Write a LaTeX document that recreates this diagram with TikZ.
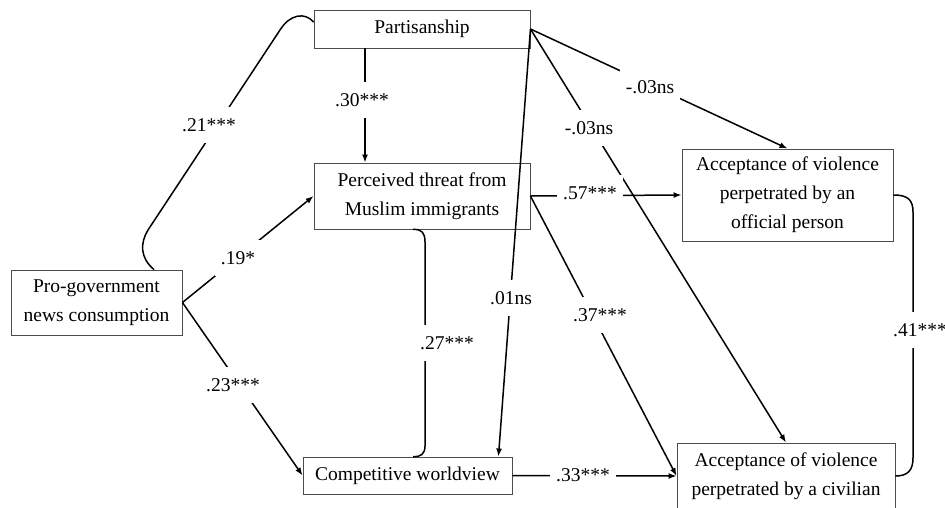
\documentclass[tikz,border=0pt]{standalone}
\usepackage{fontspec}
\setmainfont{Liberation Serif}
\usetikzlibrary{arrows.meta}
\begin{document}
\begin{tikzpicture}[x=1pt,y=-1pt,
  every node/.style={font=\fontsize{19.5}{29}\selectfont},
  var/.style={draw=black!70, line width=0.9pt, fill=white, align=center, inner sep=0pt},
  link/.style={line width=1.5pt, draw=black},
  arr/.style={link, -{Latex[length=8pt,width=6pt]}},
  coef/.style={fill=white, inner xsep=6pt, inner ysep=11pt}
]
\fill[white] (0,0) rectangle (945,507);
\useasboundingbox (0,0) rectangle (945,507);

% variables
\node[var, minimum width=216pt, minimum height=38pt] (part) at (422,29) {Partisanship};
\node[var, minimum width=216pt, minimum height=66pt] (perc) at (422,196) {Perceived threat from\\Muslim immigrants};
\node[var, minimum width=171pt, minimum height=65pt] (pro) at (96.5,302.5) {Pro-government\\news consumption};
\node[var, minimum width=209pt, minimum height=37pt] (comp) at (407.5,475.5) {Competitive worldview};
\node[var, minimum width=211pt, minimum height=92pt] (off) at (787.5,195) {Acceptance of violence\\perpetrated by an\\official person};
\node[var, minimum width=218pt, minimum height=66pt] (civ) at (786,476) {Acceptance of violence\\perpetrated by a civilian};

% paths
\draw[link] ([xshift=57.5pt]pro.north) .. controls (140,258) and (140,243) .. (148,230)
  -- (280,30) .. controls (290,14) and (305,12) .. ([yshift=7pt]part.west);
\draw[arr] ([xshift=-57pt]part.south) -- ([xshift=-57pt]perc.north);
\draw[arr] (pro.east) -- (perc.west);
\draw[arr] (pro.east) -- (comp.west);
\draw[link] ([xshift=-9pt]perc.south) .. controls (422,229) and (425,233) .. (425,242)
  -- (425,446) .. controls (425,454) and (421,457) .. ([xshift=5.5pt]comp.north);
\draw[arr] (part.east) -- ([xshift=-14pt]comp.north east);
\draw[arr] (part.east) -- (civ.north);
\draw[arr] (part.east) -- (off.north);
\draw[arr] (perc.east) -- (off.west);
\draw[arr] (perc.east) -- (civ.west);
\draw[arr] (comp.east) -- (civ.west);
\draw[link] (off.east) .. controls (908,195) and (913,200) .. (913,212)
  -- (913,458) .. controls (913,470) and (908,476) .. (civ.east);

% coefficients
\node[coef] (c21) at (209,125) {.21***};
\node[coef] (c30) at (362,100) {.30***};
\node[coef] (c19) at (238,258) {.19*};
\node[coef] (c23) at (233,385) {.23***};
\node[coef] (c27) at (447,343) {.27***};
\node[coef] (c01) at (511,298) {.01ns};
\node[coef] (c03b) at (589,128) {-.03ns};
\node[coef] (c03a) at (650,87) {-.03ns};
\node[coef] (c57) at (590,193) {.57***};
\node[coef] (c37) at (600,315) {.37***};
\node[coef] (c33) at (583,475) {.33***};
\node[coef] (c41) at (920,330) {.41***};
\end{tikzpicture}
\end{document}
